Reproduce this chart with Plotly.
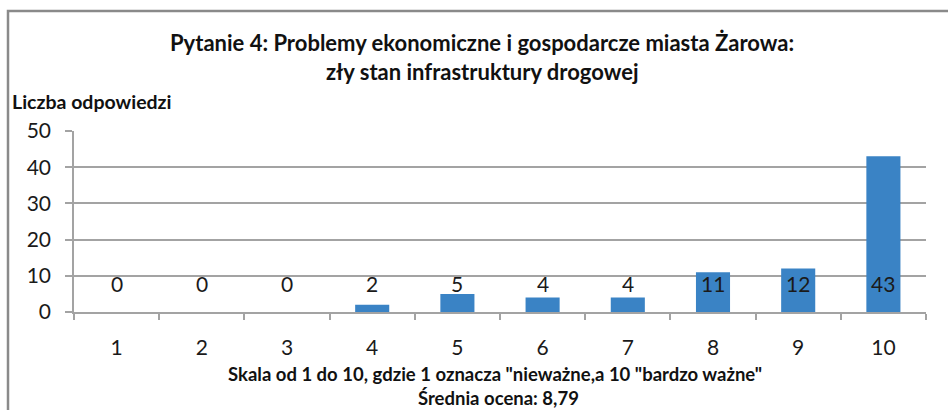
import plotly.graph_objects as go

# Survey results: number of answers for each score on a 1-10 scale
scores = ["1", "2", "3", "4", "5", "6", "7", "8", "9", "10"]
answers = [0, 0, 0, 2, 5, 4, 4, 11, 12, 43]

title_line1 = "Pytanie 4: Problemy ekonomiczne i gospodarcze miasta Żarowa:"
title_line2 = "zły stan infrastruktury drogowej"
y_title = "Liczba odpowiedzi"
x_title = "Skala od 1 do 10, gdzie 1 oznacza \"nieważne,a 10 \"bardzo ważne\""
mean_text = "Średnia ocena: 8,79"

FONT = "Lato"
BAR = "#3A83C5"
GRID = "#A3A3A3"

W, H = 948, 410
ML, MR, MT, MB = 74, 22, 131, 98
PW, PH = W - ML - MR, H - MT - MB


def px_x(px):
    return (px - ML) / PW


def px_y(py):
    return (H - MB - py) / PH


fig = go.Figure(
    go.Bar(x=scores, y=answers, marker=dict(color=BAR, line=dict(width=0)),
           width=0.4, hoverinfo="x+y")
)

# value labels sit just above the base of each bar (category index positions)
for i, v in enumerate(answers):
    fig.add_annotation(x=i, y=0, text=str(v), showarrow=False,
                       yanchor="bottom", yshift=14,
                       font=dict(family=FONT, size=21, color="#1a1a1a"))

texts = [
    (title_line1, px_x(482), px_y(42), 22),
    (title_line2, px_x(482), px_y(71), 22),
    (x_title, px_x(495), px_y(374), 18.5),
    (mean_text, px_x(498), px_y(397.5), 18.5),
]
for t, x, y, sz in texts:
    fig.add_annotation(x=x, y=y, xref="paper", yref="paper", text=f"<b>{t}</b>",
                       showarrow=False, xanchor="center", yanchor="middle",
                       borderpad=0,
                       font=dict(family=FONT, size=sz, color="#111111"))

fig.add_annotation(x=px_x(10), y=px_y(101), xref="paper", yref="paper",
                   text=f"<b>{y_title}</b>", showarrow=False,
                   xanchor="left", yanchor="middle",
                   font=dict(family=FONT, size=19.5, color="#111111"))

# outer chart frame
fig.add_shape(type="rect", xref="paper", yref="paper",
              x0=px_x(8), y0=px_y(430), x1=px_x(980), y1=px_y(11),
              line=dict(color="#8A8A8A", width=2.5), fillcolor="rgba(0,0,0,0)",
              layer="below")

fig.update_layout(
    width=W, height=H,
    margin=dict(l=ML, r=MR, t=MT, b=MB),
    paper_bgcolor="white", plot_bgcolor="white",
    showlegend=False,
    xaxis=dict(type="category", range=[-0.5, 9.5], tickson="boundaries",
               ticks="outside", ticklen=6, tickcolor=GRID, tickwidth=1.5,
               showline=True, linecolor=GRID, linewidth=1.5,
               showgrid=False, ticklabelstandoff=16,
               tickfont=dict(family=FONT, size=21, color="#1a1a1a")),
    yaxis=dict(range=[0, 50], dtick=10, ticks="outside", ticklen=7,
               tickcolor=GRID, tickwidth=1.5,
               showline=True, linecolor=GRID, linewidth=1.5,
               showgrid=True, gridcolor=GRID, gridwidth=1.5,
               zeroline=False, ticklabelstandoff=10,
               tickfont=dict(family=FONT, size=21, color="#1a1a1a")),
)

fig.write_html("out.html")
